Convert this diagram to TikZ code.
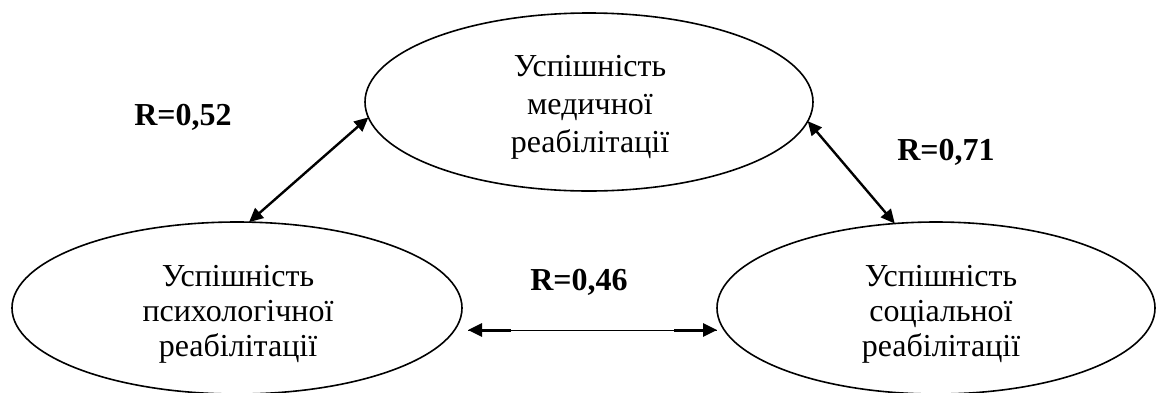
\documentclass[tikz,border=0pt]{standalone}
\usepackage{fontspec}
\setmainfont{Liberation Serif}
\usetikzlibrary{shapes.geometric,arrows.meta,calc}
\begin{document}
\begin{tikzpicture}[x=0.5pt,y=-0.5pt,
  oval/.style={draw, ellipse, line width=0.8pt, inner sep=0pt, outer sep=0pt},
  captop/.style={align=center, inner sep=0pt, font=\fontsize{16pt}{19pt}\selectfont},
  capbot/.style={align=center, inner sep=0pt, font=\fontsize{16pt}{17.5pt}\selectfont},
  coef/.style={anchor=base, inner sep=0pt, font=\fontsize{16pt}{19pt}\selectfont\bfseries},
  tip/.style={-{Triangle[length=7pt,width=6.5pt]}},
  link/.style={line width=1.2pt, {Triangle[length=7pt,width=6.5pt]}-{Triangle[length=7pt,width=6.5pt]}}]
\useasboundingbox (0,0) rectangle (1156,392);

% the three outcome ellipses
\node[oval, minimum width=224pt, minimum height=89pt] (med) at (589,102) {};
\node[oval, minimum width=225pt, minimum height=86pt] (psy) at (237,308) {};
\node[oval, minimum width=219pt, minimum height=86pt] (soc) at (936,308) {};

\node[captop] (medtxt) at (590,107.5) {Успішність\\медичної\\реабілітації};
\node[capbot] (psytxt) at (238,314.5) {Успішність\\психологічної\\реабілітації};
\node[capbot] (soctxt) at (941,314.5) {Успішність\\соціальної\\реабілітації};

% correlations between the outcomes
\draw[link] (psy.82.5) -- (med.184.8);
\draw[link] (med.-5) -- (soc.116.6);

\coordinate (hl) at ([shift={(6,22)}]psy.east);
\coordinate (hr) at ([shift={(0,22)}]soc.west);
\coordinate (hlm) at ($(hl)+(43,0)$);
\coordinate (hrm) at ($(hr)-(43,0)$);
\draw[line width=0.5pt] (hl) -- (hr);
\draw[line width=1.5pt, tip] (hlm) -- (hl);
\draw[line width=1.5pt, tip] (hrm) -- (hr);

\node[coef] (r1) at (183,125) {R=0,52};
\node[coef] (r2) at (946,160) {R=0,71};
\node[coef] (r3) at (579,290) {R=0,46};
\end{tikzpicture}
\end{document}
